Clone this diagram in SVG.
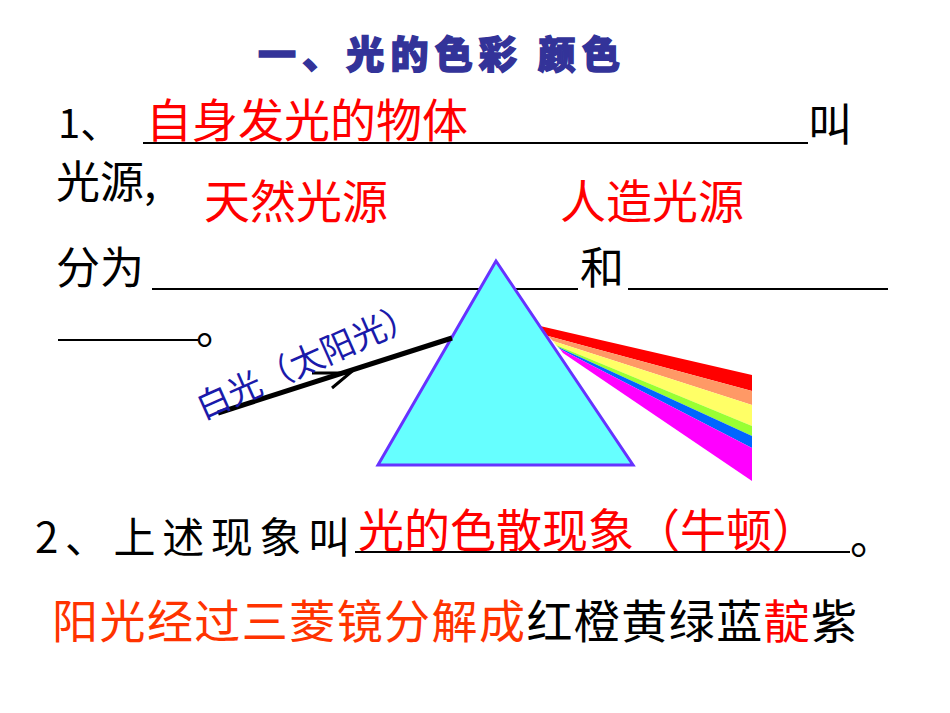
<svg xmlns="http://www.w3.org/2000/svg" width="950" height="713" viewBox="0 0 950 713">
<style>
text{font-family:"Noto Sans CJK SC","Liberation Sans",sans-serif}
.k{fill:#000;font-size:44px}
.r{fill:#f00;font-size:46px}
.u{stroke:#000;stroke-width:2}
</style>
<rect width="950" height="713" fill="#fff"/>
<g id="title"><text x="258" y="68" font-size="38" font-weight="900" fill="#333399" stroke="#333399" stroke-width="1.5" textLength="362" lengthAdjust="spacing">一、光的色彩  颜色</text></g>
<g id="q1">
<text x="58" y="138" fill="#000" font-size="40" font-family="Liberation Sans">1、</text>
<text x="146" y="137" class="r">自身发光的物体</text>
<line class="u" x1="143" y1="143" x2="808" y2="143"/>
<text x="808" y="141" class="k">叫</text>
<text x="56" y="198" class="k">光源,</text>
<text x="204" y="218" class="r">天然光源</text>
<text x="560" y="218" class="r">人造光源</text>
<text x="56" y="284" class="k">分为</text>
<line class="u" x1="152" y1="289" x2="578" y2="289"/>
<text x="580" y="284" class="k">和</text>
<line class="u" x1="628" y1="289" x2="888" y2="289"/>
<line class="u" x1="58" y1="340" x2="198" y2="340"/>
<text x="196" y="344" class="k">。</text>
</g>
<g id="spectrum">
<polygon points="540,326 752,375 752,391 548,336" fill="#ff0000"/>
<polygon points="548,336 752,391 752,405 553,341" fill="#ff9966"/>
<polygon points="553,341 752,405 752,426 556,345" fill="#ffff66"/>
<polygon points="556,345 752,426 752,436 558,347" fill="#99ff33"/>
<polygon points="558,347 752,436 752,448 560,349" fill="#0066ff"/>
<polygon points="560,349 752,448 752,481 563,353" fill="#ff00ff"/>
</g>
<g id="prism"><polygon points="496,261 378,465 633,465" fill="#66ffff" stroke="#6633ff" stroke-width="3"/></g>
<g id="connectors">
<line x1="218" y1="413" x2="452" y2="338" stroke="#000" stroke-width="5"/>
<polyline points="312,373 350,373 332,388" fill="none" stroke="#000" stroke-width="3"/>
</g>
<g id="label"><text transform="translate(203,420) rotate(-24)" font-size="34" fill="#1a1aaa">白光（太阳光）</text></g>
<g id="q2">
<text x="35" y="553" font-size="42" fill="#000" textLength="315" lengthAdjust="spacing">2、上述现象叫</text>
<text x="358" y="547" class="r">光的色散现象（牛顿）</text>
<line class="u" x1="355" y1="552" x2="850" y2="552"/>
<text x="850" y="554" class="k">。</text>
</g>
<g id="bottom"><text x="52" y="638" font-size="46" textLength="805" lengthAdjust="spacing"><tspan fill="#ff3300">阳光经过三菱镜分解成</tspan><tspan fill="#000">红橙黄绿蓝</tspan><tspan fill="#ff0000">靛</tspan><tspan fill="#000">紫</tspan></text></g>
</svg>
